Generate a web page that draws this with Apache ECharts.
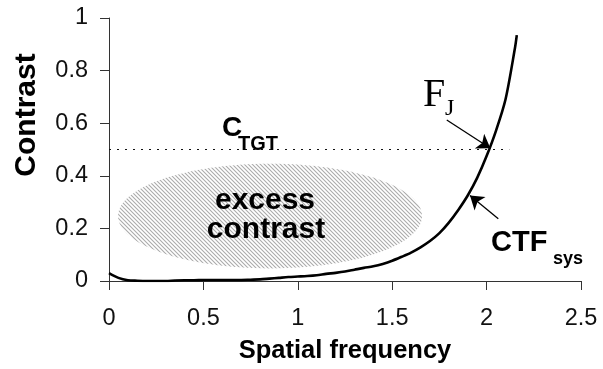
<!DOCTYPE html>
<html>
<head>
<meta charset="utf-8">
<script src="https://cdn.jsdelivr.net/npm/echarts@6/dist/echarts.min.js"></script>
<style>
  html, body { margin: 0; padding: 0; background: #fff; }
  #chart { width: 603px; height: 369px; }
</style>
</head>
<body>
<div id="chart"></div>
<script>
// CTF_sys curve
const freq = [0, 0.05, 0.1, 0.15, 0.2, 0.25, 0.3, 0.35, 0.4, 0.45, 0.5, 0.55, 0.6, 0.65, 0.7, 0.75,
  0.8, 0.85, 0.9, 0.95, 1.0, 1.05, 1.1, 1.15, 1.2, 1.25, 1.3, 1.35, 1.4, 1.45, 1.5, 1.55, 1.6,
  1.65, 1.7, 1.75, 1.8, 1.85, 1.9, 1.95, 2.0, 2.05, 2.1, 2.15, 2.16]
const ctf = [0.03, 0.012, 0.003, 0.001, 0, 0, 0, 0.002, 0.003, 0.003, 0.004, 0.004, 0.004, 0.004, 0.004, 0.005,
  0.006, 0.009, 0.012, 0.015, 0.017, 0.019, 0.022, 0.027, 0.031, 0.036, 0.043, 0.05, 0.056, 0.065, 0.077, 0.092, 0.108,
  0.128, 0.152, 0.182, 0.222, 0.27, 0.325, 0.392, 0.475, 0.572, 0.69, 0.885, 0.935]

// target contrast line
const cTgt = 0.5
const tgtRange = [0, 2.12]

// "excess contrast" ellipse: centre and radii in data units
const ellCenter = [0.853, 0.247]
const ellRadius = [0.805, 0.199]

// annotation arrows [from, to]
const arrowFj = [[1.789, 0.612], [2.02, 0.505]]
const arrowCtf = [[2.062, 0.237], [1.912, 0.325]]

const xTicks = { min: 0, max: 2.5, interval: 0.5 }
const yTicks = { min: 0, max: 1, interval: 0.2 }

// diagonal hatch pattern
const hatch = document.createElement('canvas')
hatch.width = 4; hatch.height = 4
const hc = hatch.getContext('2d')
hc.fillStyle = '#fff'; hc.fillRect(0, 0, 4, 4)
hc.strokeStyle = '#ababab'; hc.lineWidth = 1.1
hc.beginPath()
hc.moveTo(-1, -1); hc.lineTo(5, 5)
hc.moveTo(-1, 3); hc.lineTo(1, 5)
hc.moveTo(3, -1); hc.lineTo(5, 1)
hc.stroke()

const chart = echarts.init(document.getElementById('chart'), null, { renderer: 'canvas' })

const sans = 'Liberation Sans, Arial, sans-serif'
const serif = 'Liberation Serif, Times New Roman, serif'

// pixel-placed annotation text
function label(text, x, y, font, align) {
  return { type: 'text', x, y, z: 100,
    style: { text, font, fill: '#000', align: align || 'left', verticalAlign: 'middle' } }
}

chart.setOption({
  animation: false,
  backgroundColor: '#fff',
  grid: { left: 109, right: 22, top: 18, bottom: 84 },
  xAxis: {
    type: 'value', ...xTicks,
    name: 'Spatial frequency', nameLocation: 'middle', nameGap: 57,
    nameTextStyle: { fontFamily: sans, fontWeight: 'bold', fontSize: 25.5, color: '#000' },
    axisLine: { lineStyle: { color: '#333', width: 1 } },
    axisTick: { show: true, length: 9, lineStyle: { color: '#333' } },
    axisLabel: { fontFamily: sans, fontSize: 23.5, color: '#111', margin: 26 },
    splitLine: { show: false },
  },
  yAxis: {
    type: 'value', ...yTicks,
    axisLine: { show: true, lineStyle: { color: '#333', width: 1 } },
    axisTick: { show: true, length: 9, lineStyle: { color: '#333' } },
    axisLabel: { fontFamily: sans, fontSize: 23.5, color: '#111', margin: 21 },
    splitLine: { show: false },
  },
  series: [
    {
      type: 'custom',
      renderItem: (params, api) => {
        const c = api.coord(ellCenter)
        const s = api.size(ellRadius)
        return {
          type: 'ellipse',
          shape: { cx: c[0], cy: c[1], rx: s[0], ry: s[1] },
          style: { fill: { image: hatch, repeat: 'repeat' }, stroke: null },
        }
      },
      data: [ellCenter],
      z: 1,
    },
    {
      type: 'line',
      data: tgtRange.map(x => [x, cTgt]),
      symbol: 'none',
      lineStyle: { color: '#111', width: 1.2, type: [2, 6] },
      z: 2,
    },
    {
      type: 'line',
      data: freq.map((x, i) => [x, ctf[i]]),
      symbol: 'none',
      smooth: 0.3,
      lineStyle: { color: '#000', width: 2.6 },
      z: 3,
    },
    {
      type: 'lines',
      coordinateSystem: 'cartesian2d',
      data: [{ coords: arrowFj }, { coords: arrowCtf }],
      symbol: ['none', 'arrow'],
      symbolSize: [0, 13],
      lineStyle: { color: '#000', width: 1.3, opacity: 1 },
      z: 4,
    },
  ],
  graphic: [
    { type: 'text', x: 27, y: 115, rotation: Math.PI / 2, z: 100,
      style: { text: 'Contrast', font: 'bold 30px ' + sans, fill: '#000', align: 'center', verticalAlign: 'middle' } },
    label('excess', 265, 201, 'bold 30px ' + sans, 'center'),
    label('contrast', 266, 229.5, 'bold 30px ' + sans, 'center'),
    label('C', 222, 128, 'bold 28px ' + sans),
    label('TGT', 238, 144, 'bold 20px ' + sans),
    label('F', 423, 95, '40px ' + serif),
    label('J', 445, 109, '24px ' + serif),
    label('CTF', 491, 243, 'bold 29px ' + sans),
    label('sys', 553, 259, 'bold 18px ' + sans),
  ],
})
</script>
</body>
</html>
